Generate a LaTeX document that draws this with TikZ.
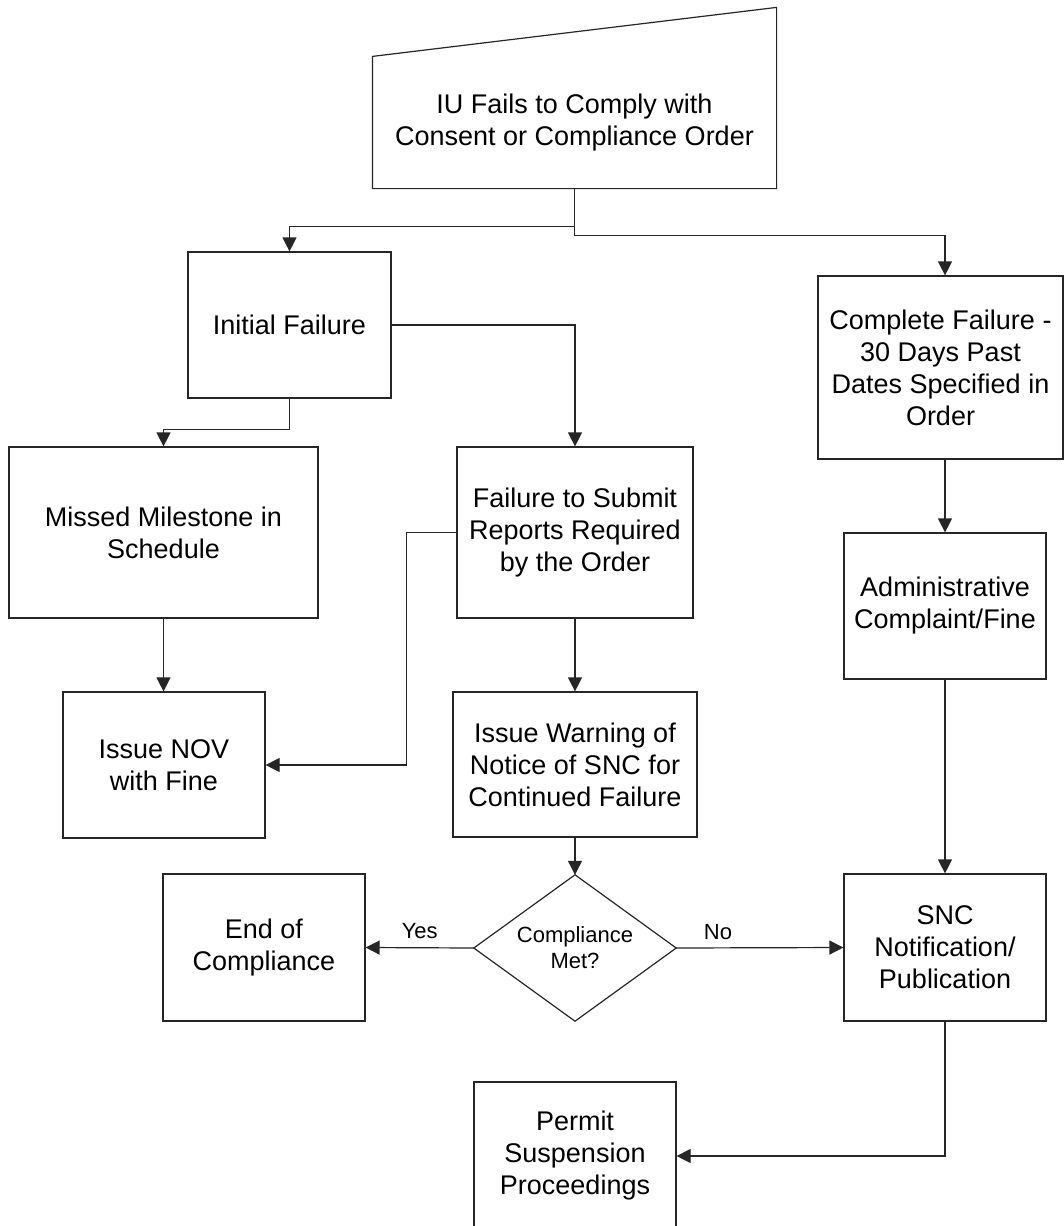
\documentclass[tikz,border=0pt]{standalone}
\usepackage{fontspec}
\setmainfont{Liberation Sans}
\usetikzlibrary{arrows.meta}
\begin{document}
\begin{tikzpicture}[x=1pt,y=-1pt,
  edge/.style={draw=black!85, line width=1.2pt},
  box/.style={edge, inner sep=0pt, align=center, font=\fontsize{27}{32}\selectfont},
  flow/.style={edge, -{Triangle[length=14pt,width=14pt]}},
  lbl/.style={font=\fontsize{22}{26}\selectfont, inner sep=0pt, align=center}]
\clip (0,0) rectangle (1064,1226);
\fill[white] (0,0) rectangle (1064,1226);

% manual-input shape at the top (outline drawn below)
\node[box, draw=none, minimum width=403pt, minimum height=131pt] (top) at (574.5,122.5)
  {IU Fails to Comply with\\Consent or Compliance Order};
\draw[edge] (top.south west) -- (top.north west) -- ([yshift=49pt]top.north east)
  -- (top.south east) -- cycle;

% process boxes
\node[box, minimum width=203pt, minimum height=146pt] (init) at (289.5,325) {Initial Failure};
\node[box, minimum width=309pt, minimum height=171pt] (mm) at (163.5,532.5) {Missed Milestone in\\Schedule};
\node[box, minimum width=236pt, minimum height=171pt] (fs) at (575,532.5) {Failure to Submit\\Reports Required\\by the Order};
\node[box, minimum width=245pt, minimum height=183pt] (cf) at (940.5,367.5) {Complete Failure -\\30 Days Past\\Dates Specified in\\Order};
\node[box, minimum width=202pt, minimum height=146pt] (adm) at (945,606) {Administrative\\Complaint/Fine};
\node[box, minimum width=202pt, minimum height=146pt] (nov) at (164,765) {Issue NOV\\with Fine};
\node[box, minimum width=244pt, minimum height=145pt] (iw) at (575,764.5) {Issue Warning of\\Notice of SNC for\\Continued Failure};
\node[box, minimum width=202pt, minimum height=147pt] (eoc) at (264,947.5) {End of\\Compliance};
\node[box, minimum width=202pt, minimum height=147pt] (snc) at (945,947.5) {SNC\\Notification/\\Publication};
\node[box, minimum width=202pt, minimum height=148pt] (perm) at (575,1156) {Permit\\Suspension\\Proceedings};

% decision
\node[lbl, minimum width=202pt, minimum height=146pt] (dia) at (575,948) {Compliance\\Met?};
\draw[edge] (dia.north) -- (dia.east) -- (dia.south) -- (dia.west) -- cycle;

% connectors
\coordinate (cfin) at (adm.north |- cf.north);
\draw[flow] (top.south) |- ([yshift=25pt]init.north) -- (init.north);
\draw[flow] (top.south) |- ([yshift=40pt]cfin) -- (cfin);
\draw[flow] (init.south) |- ([yshift=17pt]mm.north) -- (mm.north);
\draw[flow] (init.east) -| (fs.north);
\draw[flow] (mm.south) -- (mm.south |- nov.north);
\draw[flow] (fs.west) -- ++(-50,0) |- (nov.east);
\draw[flow] (fs.south) -- (iw.north);
\draw[flow] (iw.south) -- (dia.north);
\draw[flow] (dia.west) -- node[lbl, above=8pt] {Yes} (eoc.east);
\draw[flow] (dia.east) -- node[lbl, pos=0.25, above=8pt] {No} (snc.west);
\draw[flow] (adm.north |- cf.south) -- (adm.north);
\draw[flow] (adm.south) -- (snc.north);
\draw[flow] (snc.south) |- (perm.east);
\end{tikzpicture}
\end{document}
